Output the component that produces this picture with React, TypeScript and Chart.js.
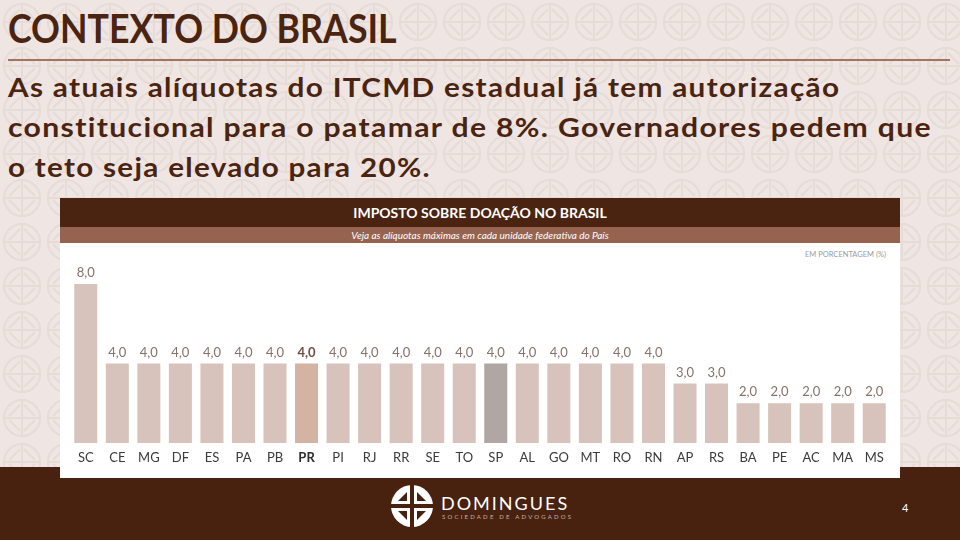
import React, { useEffect, useRef } from "react";
import { Chart, registerables } from "chart.js";

Chart.register(...registerables);

const categories = ["SC","CE","MG","DF","ES","PA","PB","PR","PI","RJ","RR","SE","TO","SP","AL","GO","MT","RO","RN","AP","RS","BA","PE","AC","MA","MS"];
const values = [8,4,4,4,4,4,4,4,4,4,4,4,4,4,4,4,4,4,4,3,3,2,2,2,2,2];
const boldCategory = "PR";
const highlightCategory = "SP";

const FONT = "Lato, 'Open Sans', sans-serif";
const BROWN = "#4a2410";

const fmt = (v: number) => v.toFixed(1).replace(".", ",");

const bgPattern =
  "data:image/svg+xml;utf8," +
  encodeURIComponent(
    `<svg xmlns='http://www.w3.org/2000/svg' width='44' height='44'><rect width='44' height='44' fill='#efe6e3'/><g fill='none' stroke='#e7dbd7' stroke-width='2'><circle cx='22' cy='22' r='18'/><line x1='22' y1='4' x2='22' y2='40'/><line x1='4' y1='22' x2='40' y2='22'/><path d='M9 20 L20 9 M24 9 L35 20 M9 24 L20 35 M24 35 L35 24'/></g></svg>`
  );

const labelPlugin = {
  id: "labels",
  afterDatasetsDraw(chart: any) {
    const ctx = chart.ctx;
    const meta = chart.getDatasetMeta(0);
    const xs = chart.scales.x;
    ctx.save();
    ctx.textAlign = "center";
    ctx.textBaseline = "middle";
    meta.data.forEach((bar: any, i: number) => {
      const isBold = categories[i] === boldCategory;
      ctx.font = `${isBold ? "bold " : ""}13px ${FONT}`;
      ctx.fillStyle = isBold ? "#6e4f43" : "#86716a";
      ctx.fillText(fmt(values[i]), bar.x, bar.y - 11);
      ctx.fillStyle = isBold ? "#2e2e2e" : "#3a3a3a";
      ctx.fillText(categories[i], xs.getPixelForValue(i), chart.chartArea.bottom + 15);
    });
    ctx.restore();
  },
};

function BarChart() {
  const ref = useRef<HTMLCanvasElement | null>(null);
  useEffect(() => {
    if (!ref.current) return;
    const colors = categories.map((c) =>
      c === boldCategory ? "#d4b3a2" : c === highlightCategory ? "#b0a6a4" : "#d7c3bb"
    );
    const chart = new Chart(ref.current, {
      type: "bar",
      data: {
        labels: categories,
        datasets: [
          {
            data: values,
            backgroundColor: colors,
            borderWidth: 0,
            categoryPercentage: 1,
            barPercentage: 0.73,
          },
        ],
      },
      options: {
        animation: false,
        responsive: false,
        maintainAspectRatio: false,
        layout: { padding: { left: 10, right: 10, top: 40, bottom: 35 } },
        scales: {
          x: { display: false },
          y: { display: false, min: 0, max: 8 },
        },
        plugins: { legend: { display: false }, tooltip: { enabled: false } },
      },
      plugins: [labelPlugin],
    });
    return () => chart.destroy();
  }, []);
  return <canvas ref={ref} width={840} height={234} style={{ display: "block" }} />;
}

function Logo() {
  return (
    <svg width="44" height="44" viewBox="0 0 44 44" style={{ position: "absolute", left: 390, top: 484 }}>
      <circle cx="22" cy="22" r="21" fill="#ffffff" />
      <rect x="20" y="0" width="4" height="44" fill="#48220f" />
      <rect x="0" y="20" width="44" height="4" fill="#48220f" />
      <path d="M8 17 L17 8 L17 17 Z" fill="#48220f" />
      <path d="M27 17 L27 8 L36 17 Z" fill="#48220f" />
      <path d="M8 27 L17 27 L17 36 Z" fill="#48220f" />
      <path d="M27 27 L36 27 L27 36 Z" fill="#48220f" />
    </svg>
  );
}

const subLine = (scale: number) => ({
  whiteSpace: "nowrap" as const,
  letterSpacing: "1.2px",
  transform: `scaleX(${scale})`,
  transformOrigin: "left center",
});

export default function App() {
  return (
    <div
      style={{
        position: "fixed",
        left: 0,
        top: 0,
        width: 960,
        height: 540,
        overflow: "hidden",
        backgroundColor: "#efe6e3",
        backgroundImage: `url("${bgPattern}")`,
        fontFamily: FONT,
      }}
    >
      <div style={{ position: "absolute", left: 8, top: 8, fontSize: 40, lineHeight: "40px", fontWeight: 700, color: BROWN, whiteSpace: "nowrap", transform: "scaleX(0.894)", transformOrigin: "left center" }}>
        CONTEXTO DO BRASIL
      </div>
      <div style={{ position: "absolute", left: 8, top: 59, width: 942, height: 2, background: "#a27262" }} />
      <div style={{ position: "absolute", left: 8, top: 66.5, fontSize: 27, lineHeight: "40px", fontWeight: 700, color: BROWN }}>
        <div style={subLine(1.1)}>As atuais alíquotas do ITCMD estadual já tem autorização</div>
        <div style={subLine(1.116)}>constitucional para o patamar de 8%. Governadores pedem que</div>
        <div style={subLine(1.096)}>o teto seja elevado para 20%.</div>
      </div>

      <div style={{ position: "absolute", left: 0, top: 467, width: 960, height: 73, background: "#48220f" }} />
      <Logo />
      <div style={{ position: "absolute", left: 441, top: 492, fontSize: 18, lineHeight: "22px", color: "#ffffff", letterSpacing: 2 }}>DOMINGUES</div>
      <div style={{ position: "absolute", left: 442, top: 513, fontSize: 6, lineHeight: "8px", color: "#c9b3a8", letterSpacing: 2.2 }}>SOCIEDADE DE ADVOGADOS</div>
      <div style={{ position: "absolute", left: 902, top: 501, fontSize: 11, lineHeight: "14px", color: "#ffffff" }}>4</div>

      <div style={{ position: "absolute", left: 60, top: 198, width: 840, height: 280, background: "#ffffff" }}>
        <div style={{ position: "absolute", left: 0, top: 0, width: 840, height: 29, background: BROWN, color: "#ffffff", fontSize: 14, fontWeight: 700, lineHeight: "29px", textAlign: "center" }}>
          IMPOSTO SOBRE DOAÇÃO NO BRASIL
        </div>
        <div style={{ position: "absolute", left: 0, top: 29, width: 840, height: 16, background: "#95634f", color: "#ffffff", fontSize: 10, fontStyle: "italic", lineHeight: "16px", textAlign: "center" }}>
          Veja as alíquotas máximas em cada unidade federativa do País
        </div>
        <div style={{ position: "absolute", right: 14, top: 52, fontSize: 7.5, lineHeight: "10px", color: "#9b9b9b" }}>EM PORCENTAGEM (%)</div>
        <div style={{ position: "absolute", left: 0, top: 46 }}>
          <BarChart />
        </div>
      </div>
    </div>
  );
}
